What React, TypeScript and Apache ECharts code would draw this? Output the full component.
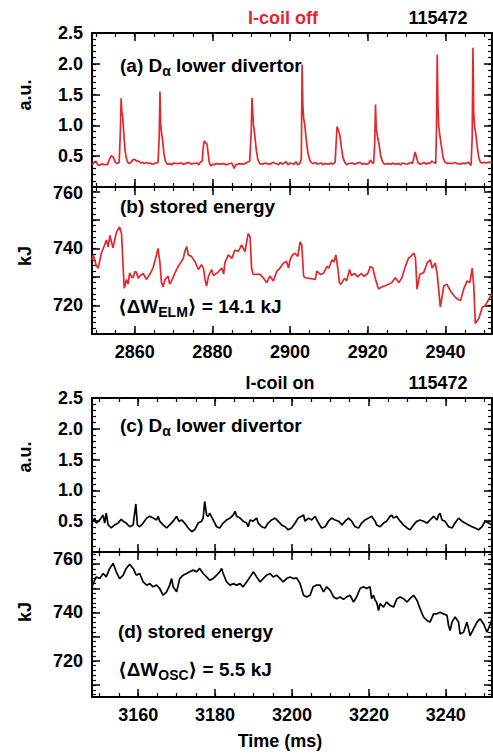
import React, { useEffect, useRef } from 'react';
import * as echarts from 'echarts';

// ---------- data ----------
const dalphaOff: [number, number][] = [
  [2849.0,0.36],[2849.5,0.40],[2850.0,0.42],[2850.5,0.36],[2851.0,0.35],[2851.5,0.38],[2852.0,0.36],[2852.5,0.37],
  [2853.0,0.36],[2853.5,0.45],[2854.0,0.51],[2854.5,0.48],[2855.0,0.40],[2855.5,0.38],[2856.0,0.40],[2856.3,0.90],
  [2856.5,1.44],[2856.7,1.22],[2856.9,1.15],[2857.2,0.85],[2857.5,0.60],[2857.8,0.48],[2858.2,0.40],[2858.6,0.38],
  [2859.0,0.40],[2859.5,0.44],[2860.0,0.45],[2860.5,0.42],[2861.0,0.42],[2861.5,0.39],[2862.0,0.40],[2862.5,0.38],
  [2863.0,0.40],[2863.5,0.38],[2864.0,0.39],[2864.5,0.37],[2865.0,0.38],[2865.5,0.39],[2866.0,0.40],[2866.3,0.80],
  [2866.5,1.55],[2866.7,1.00],[2866.9,0.88],[2867.2,0.75],[2867.5,0.55],[2867.9,0.42],[2868.4,0.37],[2869.0,0.38],
  [2869.5,0.36],[2870.0,0.39],[2871.0,0.38],[2872.0,0.39],[2872.5,0.37],[2873.0,0.38],[2874.0,0.40],[2874.5,0.37],
  [2875.0,0.38],[2876.0,0.39],[2876.5,0.36],[2877.0,0.41],[2877.4,0.42],[2877.6,0.62],[2877.9,0.75],[2878.2,0.72],
  [2878.6,0.70],[2878.9,0.55],[2879.2,0.40],[2879.6,0.34],[2880.0,0.37],[2880.5,0.36],[2881.0,0.38],[2882.0,0.37],
  [2883.0,0.38],[2883.5,0.36],[2884.0,0.37],[2885.0,0.39],[2885.6,0.30],[2886.0,0.36],[2887.0,0.38],[2888.0,0.37],
  [2889.0,0.40],[2889.6,0.42],[2890.0,0.90],[2890.2,1.45],[2890.4,1.20],[2890.6,1.00],[2890.9,0.85],[2891.3,0.60],
  [2891.7,0.45],[2892.2,0.38],[2893.0,0.37],[2893.5,0.39],[2894.0,0.38],[2895.0,0.37],[2895.5,0.40],[2896.0,0.39],
  [2897.0,0.36],[2897.5,0.40],[2898.0,0.37],[2899.0,0.41],[2899.5,0.36],[2900.0,0.39],[2901.0,0.37],[2901.5,0.41],
  [2902.0,0.36],[2902.5,0.38],[2902.9,0.45],[2903.1,1.99],[2903.3,1.30],[2903.5,1.12],[2903.8,1.00],[2904.2,0.75],
  [2904.6,0.55],[2905.1,0.43],[2905.6,0.39],[2906.0,0.38],[2906.5,0.40],[2907.0,0.37],[2908.0,0.39],[2908.5,0.36],
  [2909.0,0.38],[2910.0,0.37],[2910.5,0.39],[2911.0,0.37],[2911.6,0.40],[2911.9,0.75],[2912.1,0.98],[2912.4,0.93],
  [2912.8,0.85],[2913.2,0.65],[2913.6,0.48],[2914.1,0.40],[2914.6,0.36],[2915.0,0.38],[2916.0,0.39],[2916.5,0.37],
  [2917.0,0.38],[2918.0,0.40],[2918.5,0.37],[2919.0,0.38],[2920.0,0.37],[2920.4,0.40],[2920.7,0.44],[2921.0,0.40],
  [2921.5,0.38],[2921.8,0.70],[2922.0,1.34],[2922.2,0.95],[2922.5,0.82],[2922.9,0.70],[2923.3,0.52],[2923.8,0.41],
  [2924.3,0.37],[2925.0,0.38],[2926.0,0.37],[2926.5,0.39],[2927.0,0.37],[2928.0,0.38],[2928.5,0.36],[2929.0,0.39],
  [2930.0,0.37],[2930.5,0.38],[2931.0,0.40],[2931.5,0.38],[2931.9,0.48],[2932.2,0.57],[2932.5,0.50],[2932.9,0.40],
  [2933.4,0.37],[2934.0,0.38],[2934.5,0.40],[2935.0,0.37],[2935.5,0.39],[2936.0,0.38],[2936.5,0.42],[2937.0,0.40],
  [2937.5,0.38],[2937.7,0.90],[2937.9,2.15],[2938.1,1.30],[2938.3,0.98],[2938.6,0.82],[2939.0,0.65],[2939.4,0.48],
  [2939.9,0.40],[2940.5,0.38],[2941.0,0.39],[2942.0,0.38],[2942.5,0.40],[2943.0,0.38],[2944.0,0.37],[2944.5,0.39],
  [2945.0,0.38],[2946.0,0.40],[2946.6,0.35],[2946.9,0.80],[2947.1,2.26],[2947.3,1.20],[2947.5,0.98],[2947.8,0.88],
  [2948.2,0.65],[2948.6,0.48],[2949.0,0.40],[2949.5,0.39],[2950.0,0.40],[2950.5,0.39],[2951.0,0.40],[2952.0,0.40],
];

const energyOff: [number, number][] = [
  [2849.0,736.0],[2849.3,737.7],[2850.1,734.0],[2850.6,733.0],[2851.4,738.3],[2852.2,741.0],[2852.7,742.9],[2853.2,740.5],
  [2853.6,744.6],[2854.1,741.8],[2854.4,740.2],[2855.3,745.7],[2856.1,747.5],[2856.6,745.2],[2857.0,734.0],[2857.3,726.0],
  [2857.9,729.1],[2858.3,727.5],[2858.7,731.4],[2859.2,730.0],[2859.6,729.7],[2860.0,731.8],[2860.4,731.7],[2860.9,729.5],
  [2861.3,730.3],[2862.2,731.2],[2863.0,729.1],[2863.9,730.9],[2864.7,733.1],[2865.6,737.7],[2866.0,740.0],[2866.5,734.9],
  [2866.9,728.0],[2867.3,726.5],[2867.8,729.1],[2868.6,730.3],[2869.0,727.5],[2869.5,728.6],[2870.3,731.2],[2871.2,733.7],
  [2872.0,735.4],[2872.5,736.5],[2872.9,738.9],[2873.4,740.6],[2873.8,737.7],[2874.6,737.2],[2875.5,735.4],[2876.4,732.6],
  [2877.2,734.3],[2877.7,733.0],[2878.1,729.1],[2878.5,726.8],[2879.0,730.3],[2879.8,732.6],[2880.3,730.5],[2880.7,730.9],
  [2881.5,731.7],[2882.4,733.1],[2882.9,731.0],[2883.2,734.9],[2884.1,737.7],[2885.0,736.5],[2885.8,739.4],[2886.7,738.9],
  [2887.5,741.2],[2888.4,738.9],[2889.2,745.2],[2889.7,744.0],[2890.1,733.0],[2890.5,730.9],[2891.4,730.9],[2892.3,730.9],
  [2893.1,729.7],[2894.0,728.0],[2894.8,730.3],[2895.7,728.6],[2896.6,732.0],[2897.4,733.1],[2898.3,734.9],[2899.1,735.4],
  [2899.6,733.1],[2900.0,736.0],[2900.6,737.7],[2901.3,738.3],[2902.0,737.2],[2902.6,742.3],[2903.0,741.2],[2903.5,730.3],
  [2903.9,729.7],[2905.0,729.5],[2906.5,729.1],[2906.9,732.0],[2907.8,730.9],[2908.6,731.2],[2909.5,733.7],[2910.0,733.1],
  [2910.8,736.0],[2911.3,735.2],[2911.8,737.7],[2912.3,733.0],[2912.7,728.0],[2913.1,727.4],[2914.0,729.5],[2914.6,728.6],
  [2915.3,732.6],[2915.8,730.5],[2916.6,731.2],[2917.4,730.0],[2918.3,731.2],[2919.1,730.2],[2920.0,731.2],[2920.7,733.7],
  [2921.3,733.1],[2921.9,729.7],[2922.8,725.7],[2923.6,726.5],[2924.5,726.9],[2925.4,727.4],[2926.2,728.0],[2927.1,729.7],
  [2928.0,728.0],[2928.8,729.7],[2929.7,733.7],[2930.5,736.6],[2931.0,737.0],[2931.4,737.7],[2931.9,738.3],[2932.3,736.5],
  [2932.7,725.7],[2933.4,730.9],[2934.4,731.5],[2935.3,734.9],[2936.1,736.0],[2936.6,733.1],[2937.4,734.9],[2937.9,730.9],
  [2938.7,719.4],[2939.6,726.9],[2940.4,727.4],[2941.3,725.1],[2942.2,723.4],[2943.0,722.3],[2943.9,721.7],[2944.7,725.7],
  [2945.6,728.6],[2946.3,728.0],[2946.9,733.1],[2947.3,726.9],[2947.7,713.7],[2948.6,715.4],[2949.5,719.4],[2950.3,720.0],
  [2951.2,722.3],[2952.0,724.0],
];

const dalphaOn: [number, number][] = [
  [3148.0,0.48],[3148.3,0.50],[3148.7,0.55],[3149.1,0.47],[3150.0,0.52],[3150.9,0.60],[3151.3,0.47],[3151.7,0.63],
  [3152.2,0.44],[3153.0,0.39],[3153.9,0.44],[3154.8,0.47],[3155.6,0.53],[3156.1,0.50],[3156.9,0.47],[3157.8,0.41],
  [3158.7,0.44],[3159.4,0.78],[3159.8,0.44],[3160.4,0.41],[3161.3,0.47],[3162.2,0.55],[3163.0,0.58],[3163.9,0.55],
  [3164.8,0.52],[3165.2,0.58],[3165.6,0.50],[3166.5,0.44],[3167.4,0.39],[3168.2,0.44],[3169.1,0.50],[3170.0,0.58],
  [3170.6,0.50],[3171.3,0.52],[3172.1,0.47],[3173.0,0.39],[3173.9,0.33],[3174.7,0.36],[3175.6,0.47],[3176.5,0.50],
  [3176.9,0.55],[3177.3,0.82],[3177.8,0.60],[3178.2,0.58],[3178.6,0.63],[3179.5,0.52],[3180.4,0.41],[3181.2,0.39],
  [3182.1,0.47],[3183.0,0.52],[3183.9,0.55],[3184.7,0.60],[3185.2,0.66],[3185.6,0.58],[3186.5,0.55],[3187.3,0.50],
  [3188.2,0.47],[3188.6,0.41],[3189.1,0.52],[3189.9,0.50],[3190.8,0.55],[3191.2,0.47],[3192.1,0.41],[3193.0,0.39],
  [3193.8,0.47],[3194.7,0.52],[3195.6,0.55],[3196.4,0.50],[3197.3,0.44],[3198.2,0.41],[3199.0,0.36],[3199.9,0.39],
  [3200.8,0.47],[3201.6,0.55],[3202.5,0.58],[3203.0,0.60],[3203.4,0.50],[3204.3,0.55],[3205.1,0.52],[3206.0,0.58],
  [3206.9,0.47],[3207.7,0.39],[3208.6,0.41],[3209.5,0.50],[3210.3,0.55],[3211.2,0.52],[3212.1,0.50],[3213.0,0.44],
  [3213.8,0.50],[3214.7,0.55],[3215.5,0.50],[3216.4,0.41],[3217.3,0.39],[3218.1,0.47],[3219.0,0.52],[3219.9,0.55],
  [3220.7,0.58],[3221.6,0.50],[3222.0,0.44],[3222.9,0.41],[3223.8,0.47],[3224.6,0.50],[3225.5,0.58],[3225.9,0.60],
  [3226.4,0.55],[3227.2,0.58],[3228.1,0.50],[3229.0,0.44],[3229.9,0.39],[3230.7,0.36],[3231.6,0.44],[3232.5,0.50],
  [3233.3,0.52],[3234.2,0.50],[3235.1,0.47],[3235.9,0.52],[3236.8,0.58],[3237.7,0.52],[3238.1,0.60],[3238.5,0.63],
  [3239.0,0.52],[3239.8,0.50],[3240.7,0.41],[3241.6,0.39],[3242.4,0.47],[3243.3,0.55],[3244.2,0.50],[3245.0,0.47],
  [3245.9,0.44],[3246.8,0.41],[3247.6,0.39],[3248.5,0.36],[3249.4,0.41],[3250.2,0.50],[3251.1,0.47],[3252.0,0.44],
];

const energyOn: [number, number][] = [
  [3148.0,750.5],[3148.3,751.9],[3149.1,754.7],[3150.0,754.0],[3150.9,756.1],[3151.7,754.7],[3152.6,758.2],[3153.5,760.3],
  [3154.3,756.8],[3155.2,754.0],[3156.1,755.4],[3156.9,758.2],[3157.8,759.9],[3158.7,758.2],[3159.5,755.4],[3160.4,756.1],
  [3161.3,752.6],[3162.2,751.3],[3163.0,751.9],[3163.9,750.6],[3164.8,751.3],[3165.6,749.9],[3166.5,747.1],[3167.4,748.5],
  [3168.2,751.3],[3168.7,754.0],[3169.1,750.6],[3170.0,748.5],[3170.8,754.0],[3171.7,755.4],[3172.6,756.1],[3173.4,756.8],
  [3174.3,757.5],[3175.2,756.8],[3176.0,758.2],[3176.9,756.1],[3177.8,754.7],[3178.6,753.3],[3179.5,754.0],[3180.4,755.4],
  [3181.2,756.8],[3181.7,758.2],[3182.1,756.1],[3183.0,752.6],[3183.9,751.3],[3184.7,751.9],[3185.6,751.3],[3186.5,751.9],
  [3187.3,750.6],[3188.2,752.6],[3189.1,754.7],[3190.0,756.8],[3190.8,754.7],[3191.7,752.6],[3192.5,754.0],[3193.4,755.4],
  [3194.3,756.1],[3195.1,754.7],[3196.0,755.4],[3196.9,754.0],[3197.7,752.6],[3198.6,754.0],[3199.5,754.7],[3200.3,754.0],
  [3201.2,754.3],[3202.1,751.9],[3203.0,747.1],[3203.8,746.4],[3204.7,747.1],[3205.5,750.6],[3206.4,751.3],[3207.3,751.3],
  [3208.2,748.5],[3209.0,750.6],[3209.9,749.2],[3210.8,746.4],[3211.6,745.7],[3212.5,746.4],[3213.4,745.4],[3214.2,746.4],
  [3215.1,747.1],[3216.0,744.3],[3216.8,746.4],[3217.7,749.9],[3218.6,750.6],[3219.4,749.9],[3220.3,750.6],[3220.7,745.7],
  [3221.2,747.1],[3221.6,745.0],[3222.0,744.3],[3222.5,740.8],[3222.9,743.6],[3223.8,742.2],[3224.6,744.3],[3225.5,742.9],
  [3226.4,742.2],[3227.3,745.7],[3228.1,746.4],[3229.0,745.7],[3229.9,744.3],[3230.7,745.7],[3231.6,747.1],[3232.5,745.0],
  [3233.3,741.5],[3234.2,738.1],[3235.1,736.7],[3235.9,736.0],[3236.8,739.4],[3237.7,739.4],[3238.5,740.1],[3239.4,739.4],
  [3240.3,738.8],[3240.7,734.6],[3241.1,732.5],[3241.6,736.0],[3242.4,738.1],[3243.3,736.0],[3243.7,731.1],[3244.6,731.8],
  [3245.5,736.0],[3246.3,730.4],[3247.2,733.2],[3248.1,736.0],[3248.9,737.4],[3249.8,735.3],[3250.7,731.8],[3251.6,735.3],
  [3252.2,738.1],
];

// ---------- tick labels ----------
const timeTicksOff = [2860, 2880, 2900, 2920, 2940];
const timeTicksOn = [3160, 3180, 3200, 3220, 3240];
const dalphaTicks = [0.5, 1.0, 1.5, 2.0, 2.5];
const energyTicks = [710, 720, 730, 740, 750, 760];
const energyLabels = [720, 740, 760];

const FONT = "'Liberation Sans', Arial, Helvetica, 'DejaVu Sans', sans-serif";
const RED = '#e5262c';
const BLACK = '#000';

function steps(from: number, to: number, step: number): number[] {
  const out: number[] = [];
  for (let i = 0; from + i * step <= to + 1e-9; i++) out.push(Math.round((from + i * step) * 1000) / 1000);
  return out;
}

const labelBase = { fontSize: 18, fontWeight: 'bold', fontFamily: FONT, color: BLACK };

function xAxes(grid: number, min: number, max: number, major: number[], minor: number[], showLabels: boolean) {
  const common = { type: 'value', gridIndex: grid, min, max, splitLine: { show: false }, scale: true };
  const line = { show: true, onZero: false, lineStyle: { color: BLACK, width: 2 } };
  const noLine = { show: false, onZero: false };
  const majorTick = { show: true, inside: true, length: 8, customValues: major, lineStyle: { color: BLACK, width: 1.5 } };
  const minorTick = { show: true, inside: true, length: 4, customValues: minor, lineStyle: { color: BLACK, width: 1.2 } };
  return [
    {
      ...common, position: 'bottom', axisLine: line, axisTick: majorTick,
      axisLabel: showLabels ? { ...labelBase, show: true, customValues: major, margin: 9, formatter: (v: number) => String(v) } : { show: false },
    },
    { ...common, position: 'bottom', axisLine: noLine, axisTick: minorTick, axisLabel: { show: false } },
    { ...common, position: 'top', axisLine: line, axisTick: majorTick, axisLabel: { show: false } },
    { ...common, position: 'top', axisLine: noLine, axisTick: minorTick, axisLabel: { show: false } },
  ];
}

function yAxes(grid: number, min: number, max: number, major: number[], minor: number[], labels: number[], formatter: (v: number) => string, rich?: any) {
  const common = { type: 'value', gridIndex: grid, min, max, splitLine: { show: false }, scale: true };
  const line = { show: true, onZero: false, lineStyle: { color: BLACK, width: 2 } };
  const noLine = { show: false, onZero: false };
  const majorTick = { show: true, inside: true, length: 8, customValues: major, lineStyle: { color: BLACK, width: 1.5 } };
  const minorTick = { show: true, inside: true, length: 4, customValues: minor, lineStyle: { color: BLACK, width: 1.2 } };
  return [
    {
      ...common, position: 'left', axisLine: line, axisTick: majorTick,
      axisLabel: { ...labelBase, show: true, customValues: labels, margin: 9, formatter, rich },
    },
    { ...common, position: 'left', axisLine: noLine, axisTick: minorTick, axisLabel: { show: false } },
    { ...common, position: 'right', axisLine: line, axisTick: majorTick, axisLabel: { show: false } },
    { ...common, position: 'right', axisLine: noLine, axisTick: minorTick, axisLabel: { show: false } },
  ];
}

function buildOption() {
  const fmt1 = (v: number) => v.toFixed(1);
  const energyFmt = (v: number) => (v === 760 ? `{t|${v}}` : String(v));
  const richB = { t: { ...labelBase, padding: [3, 0, 0, 0] } };
  const richD = { t: { ...labelBase, padding: [0, 0, 10, 0] } };

  const grids = [
    { left: 92, top: 33, width: 400, height: 154 },
    { left: 92, top: 187, width: 400, height: 147 },
    { left: 92, top: 398, width: 400, height: 154 },
    { left: 92, top: 552, width: 400, height: 145 },
  ].map((g) => ({ ...g, containLabel: false, outerBoundsMode: 'none', show: false }));

  const minorOff = steps(2850, 2950, 5);
  const minorOn = steps(3150, 3250, 5);
  const minorDa = steps(0.1, 2.4, 0.1);

  const xAxis = [
    ...xAxes(0, 2849, 2952, timeTicksOff, minorOff, false),
    ...xAxes(1, 2849, 2952, timeTicksOff, minorOff, true),
    ...xAxes(2, 3148, 3252, timeTicksOn, minorOn, false),
    ...xAxes(3, 3148, 3252, timeTicksOn, minorOn, true),
  ];
  const yAxis = [
    ...yAxes(0, 0, 2.5, dalphaTicks, minorDa, dalphaTicks, fmt1),
    ...yAxes(1, 710, 761.5, energyTicks, steps(712, 760, 2), energyLabels, energyFmt, richB),
    ...yAxes(2, 0, 2.5, dalphaTicks, minorDa, dalphaTicks, fmt1),
    ...yAxes(3, 705, 765, energyTicks, steps(706, 764, 2), energyLabels, energyFmt, richD),
  ];

  const mkSeries = (g: number, data: [number, number][], color: string) => ({
    type: 'line', xAxisIndex: g * 4, yAxisIndex: g * 4, data, showSymbol: false, symbol: 'none',
    lineStyle: { color, width: 1.7 }, itemStyle: { color }, silent: true, clip: true,
  });

  const txt = (x: number, y: number, text: string, fill = BLACK, size = 18, extra: any = {}) => ({
    type: 'text', x, y, silent: true, ...extra,
    style: { text, fill, fontSize: size, fontWeight: 'bold', fontFamily: FONT, align: 'center', verticalAlign: 'middle' },
  });

  const richLabel = (x: number, y: number, text: string, subPad: number) => ({
    type: 'text', x, y, silent: true,
    style: {
      text, align: 'left', verticalAlign: 'top', fill: BLACK,
      fontSize: 19, fontWeight: 'bold', fontFamily: FONT,
      rich: {
        m: { fontSize: 19, fontWeight: 'bold', fontFamily: FONT, fill: BLACK, lineHeight: 22, verticalAlign: 'top' },
        s: { fontSize: 14, fontWeight: 'bold', fontFamily: FONT, fill: BLACK, lineHeight: 14, verticalAlign: 'bottom', padding: [subPad, 0, 0, 0] },
      },
    },
  });

  const graphic = [
    txt(283, 18, 'I-coil off', RED),
    txt(438, 18, '115472'),
    txt(280, 383, 'I-coil on'),
    txt(438, 383, '115472'),
    txt(25, 95, 'a.u.', BLACK, 18, { rotation: Math.PI / 2 }),
    txt(25, 256, 'kJ', BLACK, 18, { rotation: Math.PI / 2 }),
    txt(25, 457, 'a.u.', BLACK, 18, { rotation: Math.PI / 2 }),
    txt(25, 612, 'kJ', BLACK, 18, { rotation: Math.PI / 2 }),
    txt(280, 741, 'Time (ms)'),
    richLabel(120, 55.5, '{m|(a) D}{s|α}{m| lower divertor}', 0),
    richLabel(120, 197, '{m|(b) stored energy}', 0),
    richLabel(118, 297, '{m|⟨ΔW}{s|ELM}{m|⟩ = 14.1 kJ}', 12),
    richLabel(120, 416, '{m|(c) D}{s|α}{m| lower divertor}', 0),
    richLabel(118, 622, '{m|(d) stored energy}', 0),
    richLabel(118, 660, '{m|⟨ΔW}{s|OSC}{m|⟩ = 5.5 kJ}', 12),
  ];

  return {
    animation: false,
    backgroundColor: '#fff',
    grid: grids,
    xAxis,
    yAxis,
    series: [
      mkSeries(0, dalphaOff, RED),
      mkSeries(1, energyOff, RED),
      mkSeries(2, dalphaOn, BLACK),
      mkSeries(3, energyOn, BLACK),
    ],
    graphic,
  };
}

export default function App() {
  const ref = useRef<HTMLDivElement>(null);
  useEffect(() => {
    const chart = echarts.init(ref.current as HTMLDivElement, null, { renderer: 'svg' });
    chart.setOption(buildOption() as any);
    return () => chart.dispose();
  }, []);
  return (
    <div
      ref={ref}
      style={{ position: 'fixed', left: 0, top: 0, width: 493, height: 755, background: '#fff' }}
    />
  );
}
